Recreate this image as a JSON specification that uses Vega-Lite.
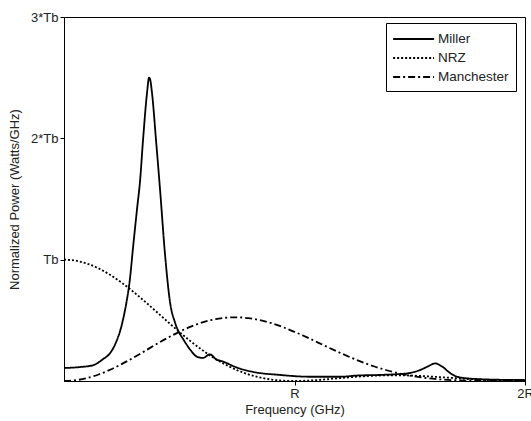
{
  "$schema": "https://vega.github.io/schema/vega-lite/v6.json",
  "autosize": {"type": "none"},
  "width": 461,
  "height": 364,
  "padding": {"left": 64, "top": 17, "right": 6, "bottom": 40},
  "background": "white",
  "config": {
    "font": "Liberation Sans",
    "view": {"stroke": "black", "strokeWidth": 1},
    "axis": {"grid": false, "domainColor": "black", "tickColor": "black", "labelColor": "#222", "titleColor": "#222", "labelFontSize": 13, "titleFontSize": 13, "titleFontWeight": "normal", "labelFont": "Liberation Sans", "titleFont": "Liberation Sans"}
  },
  "datasets": {
    "curves": [
      {"f": 0.000, "p": 0.107, "s": "Miller"},
      {"f": 0.069, "p": 0.115, "s": "Miller"},
      {"f": 0.126, "p": 0.13, "s": "Miller"},
      {"f": 0.169, "p": 0.18, "s": "Miller"},
      {"f": 0.200, "p": 0.23, "s": "Miller"},
      {"f": 0.226, "p": 0.32, "s": "Miller"},
      {"f": 0.243, "p": 0.41, "s": "Miller"},
      {"f": 0.260, "p": 0.54, "s": "Miller"},
      {"f": 0.273, "p": 0.67, "s": "Miller"},
      {"f": 0.286, "p": 0.84, "s": "Miller"},
      {"f": 0.299, "p": 1.09, "s": "Miller"},
      {"f": 0.317, "p": 1.42, "s": "Miller"},
      {"f": 0.330, "p": 1.65, "s": "Miller"},
      {"f": 0.343, "p": 1.99, "s": "Miller"},
      {"f": 0.360, "p": 2.37, "s": "Miller"},
      {"f": 0.369, "p": 2.50, "s": "Miller"},
      {"f": 0.373, "p": 2.49, "s": "Miller"},
      {"f": 0.382, "p": 2.37, "s": "Miller"},
      {"f": 0.399, "p": 1.99, "s": "Miller"},
      {"f": 0.417, "p": 1.57, "s": "Miller"},
      {"f": 0.438, "p": 1.05, "s": "Miller"},
      {"f": 0.460, "p": 0.65, "s": "Miller"},
      {"f": 0.482, "p": 0.48, "s": "Miller"},
      {"f": 0.499, "p": 0.40, "s": "Miller"},
      {"f": 0.512, "p": 0.36, "s": "Miller"},
      {"f": 0.547, "p": 0.26, "s": "Miller"},
      {"f": 0.577, "p": 0.20, "s": "Miller"},
      {"f": 0.603, "p": 0.19, "s": "Miller"},
      {"f": 0.633, "p": 0.22, "s": "Miller"},
      {"f": 0.659, "p": 0.18, "s": "Miller"},
      {"f": 0.690, "p": 0.16, "s": "Miller"},
      {"f": 0.751, "p": 0.11, "s": "Miller"},
      {"f": 0.820, "p": 0.075, "s": "Miller"},
      {"f": 0.937, "p": 0.05, "s": "Miller"},
      {"f": 1.067, "p": 0.035, "s": "Miller"},
      {"f": 1.197, "p": 0.035, "s": "Miller"},
      {"f": 1.271, "p": 0.045, "s": "Miller"},
      {"f": 1.371, "p": 0.05, "s": "Miller"},
      {"f": 1.458, "p": 0.058, "s": "Miller"},
      {"f": 1.501, "p": 0.066, "s": "Miller"},
      {"f": 1.544, "p": 0.09, "s": "Miller"},
      {"f": 1.579, "p": 0.12, "s": "Miller"},
      {"f": 1.610, "p": 0.145, "s": "Miller"},
      {"f": 1.640, "p": 0.12, "s": "Miller"},
      {"f": 1.675, "p": 0.066, "s": "Miller"},
      {"f": 1.705, "p": 0.035, "s": "Miller"},
      {"f": 1.748, "p": 0.022, "s": "Miller"},
      {"f": 1.805, "p": 0.015, "s": "Miller"},
      {"f": 1.892, "p": 0.01, "s": "Miller"},
      {"f": 2.000, "p": 0.008, "s": "Miller"},
      {"f": 0.00, "p": 1.0, "s": "NRZ"},
      {"f": 0.05, "p": 0.9918, "s": "NRZ"},
      {"f": 0.10, "p": 0.9675, "s": "NRZ"},
      {"f": 0.15, "p": 0.9281, "s": "NRZ"},
      {"f": 0.20, "p": 0.8751, "s": "NRZ"},
      {"f": 0.25, "p": 0.8106, "s": "NRZ"},
      {"f": 0.30, "p": 0.7368, "s": "NRZ"},
      {"f": 0.35, "p": 0.6566, "s": "NRZ"},
      {"f": 0.40, "p": 0.5728, "s": "NRZ"},
      {"f": 0.45, "p": 0.4881, "s": "NRZ"},
      {"f": 0.50, "p": 0.4053, "s": "NRZ"},
      {"f": 0.55, "p": 0.3267, "s": "NRZ"},
      {"f": 0.60, "p": 0.2546, "s": "NRZ"},
      {"f": 0.65, "p": 0.1904, "s": "NRZ"},
      {"f": 0.70, "p": 0.1353, "s": "NRZ"},
      {"f": 0.75, "p": 0.0901, "s": "NRZ"},
      {"f": 0.80, "p": 0.0547, "s": "NRZ"},
      {"f": 0.85, "p": 0.0289, "s": "NRZ"},
      {"f": 0.90, "p": 0.0119, "s": "NRZ"},
      {"f": 0.95, "p": 0.0027, "s": "NRZ"},
      {"f": 1.00, "p": 0.0, "s": "NRZ"},
      {"f": 1.05, "p": 0.0022, "s": "NRZ"},
      {"f": 1.10, "p": 0.0080, "s": "NRZ"},
      {"f": 1.15, "p": 0.0158, "s": "NRZ"},
      {"f": 1.20, "p": 0.0243, "s": "NRZ"},
      {"f": 1.25, "p": 0.0324, "s": "NRZ"},
      {"f": 1.30, "p": 0.0392, "s": "NRZ"},
      {"f": 1.35, "p": 0.0441, "s": "NRZ"},
      {"f": 1.40, "p": 0.0468, "s": "NRZ"},
      {"f": 1.45, "p": 0.0470, "s": "NRZ"},
      {"f": 1.50, "p": 0.0450, "s": "NRZ"},
      {"f": 1.55, "p": 0.0411, "s": "NRZ"},
      {"f": 1.60, "p": 0.0358, "s": "NRZ"},
      {"f": 1.65, "p": 0.0295, "s": "NRZ"},
      {"f": 1.70, "p": 0.0229, "s": "NRZ"},
      {"f": 1.75, "p": 0.0165, "s": "NRZ"},
      {"f": 1.80, "p": 0.0108, "s": "NRZ"},
      {"f": 1.85, "p": 0.0061, "s": "NRZ"},
      {"f": 1.90, "p": 0.0027, "s": "NRZ"},
      {"f": 1.95, "p": 0.0007, "s": "NRZ"},
      {"f": 2.00, "p": 0.0, "s": "NRZ"},
      {"f": 0.00, "p": 0.0, "s": "Manchester"},
      {"f": 0.05, "p": 0.0061, "s": "Manchester"},
      {"f": 0.10, "p": 0.0243, "s": "Manchester"},
      {"f": 0.15, "p": 0.0535, "s": "Manchester"},
      {"f": 0.20, "p": 0.0924, "s": "Manchester"},
      {"f": 0.25, "p": 0.1391, "s": "Manchester"},
      {"f": 0.30, "p": 0.1913, "s": "Manchester"},
      {"f": 0.35, "p": 0.2466, "s": "Manchester"},
      {"f": 0.40, "p": 0.3024, "s": "Manchester"},
      {"f": 0.45, "p": 0.3560, "s": "Manchester"},
      {"f": 0.50, "p": 0.4053, "s": "Manchester"},
      {"f": 0.55, "p": 0.4479, "s": "Manchester"},
      {"f": 0.60, "p": 0.4823, "s": "Manchester"},
      {"f": 0.65, "p": 0.5070, "s": "Manchester"},
      {"f": 0.70, "p": 0.5213, "s": "Manchester"},
      {"f": 0.75, "p": 0.5249, "s": "Manchester"},
      {"f": 0.80, "p": 0.5181, "s": "Manchester"},
      {"f": 0.85, "p": 0.5015, "s": "Manchester"},
      {"f": 0.90, "p": 0.4762, "s": "Manchester"},
      {"f": 0.95, "p": 0.4436, "s": "Manchester"},
      {"f": 1.00, "p": 0.4053, "s": "Manchester"},
      {"f": 1.05, "p": 0.3631, "s": "Manchester"},
      {"f": 1.10, "p": 0.3188, "s": "Manchester"},
      {"f": 1.15, "p": 0.2740, "s": "Manchester"},
      {"f": 1.20, "p": 0.2303, "s": "Manchester"},
      {"f": 1.25, "p": 0.1890, "s": "Manchester"},
      {"f": 1.30, "p": 0.1511, "s": "Manchester"},
      {"f": 1.35, "p": 0.1175, "s": "Manchester"},
      {"f": 1.40, "p": 0.0886, "s": "Manchester"},
      {"f": 1.45, "p": 0.0644, "s": "Manchester"},
      {"f": 1.50, "p": 0.0450, "s": "Manchester"},
      {"f": 1.55, "p": 0.0300, "s": "Manchester"},
      {"f": 1.60, "p": 0.0189, "s": "Manchester"},
      {"f": 1.65, "p": 0.0111, "s": "Manchester"},
      {"f": 1.70, "p": 0.0060, "s": "Manchester"},
      {"f": 1.75, "p": 0.0028, "s": "Manchester"},
      {"f": 1.80, "p": 0.0011, "s": "Manchester"},
      {"f": 1.85, "p": 0.0004, "s": "Manchester"},
      {"f": 1.90, "p": 0.0001, "s": "Manchester"},
      {"f": 1.95, "p": 0.0, "s": "Manchester"},
      {"f": 2.00, "p": 0.0, "s": "Manchester"}
    ]
  },
  "data": {"name": "curves"},
  "mark": {"type": "line", "strokeWidth": 1.8, "interpolate": "monotone", "clip": true},
  "encoding": {
    "x": {
      "field": "f", "type": "quantitative",
      "scale": {"domain": [0, 2], "nice": false, "zero": false},
      "axis": {"values": [1, 2], "labelExpr": "datum.value == 1 ? 'R' : '2R'", "title": "Frequency (GHz)", "tickSize": 4, "labelPadding": 2, "titlePadding": 3, "labelFlush": false}
    },
    "y": {
      "field": "p", "type": "quantitative",
      "scale": {"domain": [0, 3], "nice": false},
      "axis": {"values": [1, 2, 3], "labelExpr": "datum.value == 1 ? 'Tb' : datum.value + '*Tb'", "title": "Normalized Power (Watts/GHz)", "tickSize": 4, "labelPadding": 2, "titlePadding": 9, "labelFlush": false}
    },
    "color": {
      "field": "s", "type": "nominal",
      "scale": {"domain": ["Miller", "NRZ", "Manchester"], "range": ["black", "black", "black"]},
      "legend": {"title": null, "orient": "none", "legendX": 322, "legendY": 6, "strokeColor": "black", "fillColor": "white", "padding": 7, "symbolType": "M-1.11,0H4.01", "symbolSize": 256, "symbolStrokeWidth": 1.8, "labelFontSize": 13.5, "labelColor": "#222", "labelOffset": 27, "rowPadding": 3, "labelFont": "Liberation Sans"}
    },
    "strokeDash": {
      "field": "s", "type": "nominal",
      "scale": {"domain": ["Miller", "NRZ", "Manchester"], "range": [[1, 0], [2, 2], [7, 3, 2, 3]]},
      "legend": {"title": null}
    }
  }
}
